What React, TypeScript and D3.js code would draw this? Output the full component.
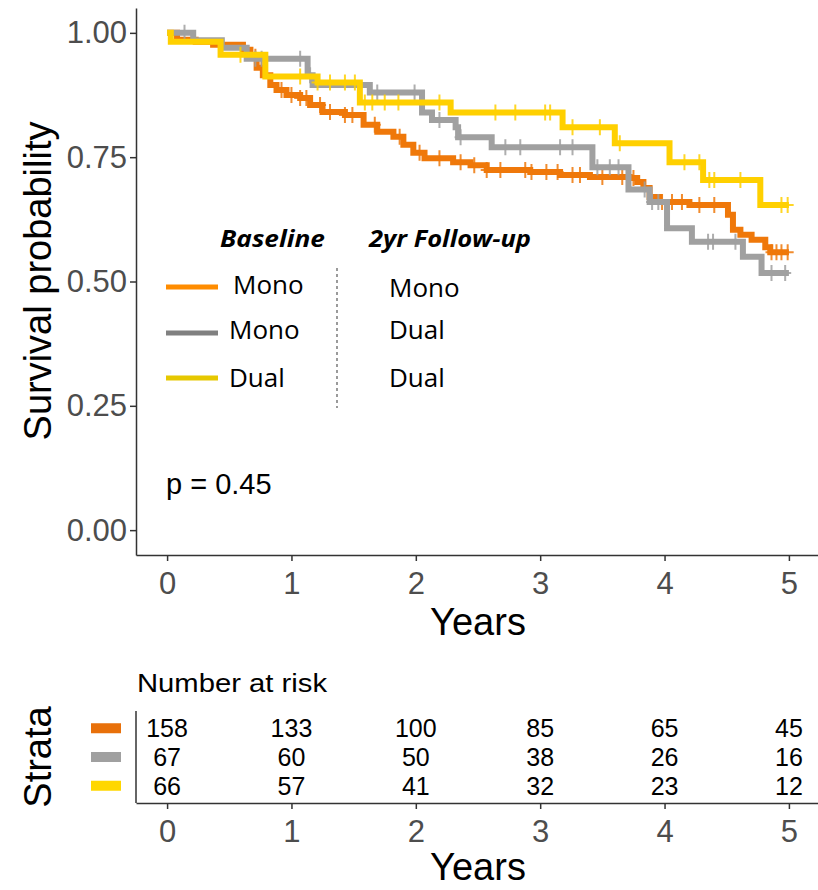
import React, { useEffect, useRef } from "react";
import * as d3 from "d3";

// strata: baseline / 2yr follow-up
const strata = ["Mono-Mono", "Mono-Dual", "Dual-Dual"];
const curveColors = ["#EF780A", "#A0A0A0", "#FFD000"];
const legendColors = ["#FF8C00", "#808080", "#E6C800"];
const tableColors = ["#E8700A", "#A0A0A0", "#FFD700"];

const orangeTimes = [0, 0.08, 0.23, 0.37, 0.61, 0.67, 0.72, 0.77, 0.83, 0.88, 0.96, 1.07, 1.15, 1.25, 1.43, 1.58, 1.69, 1.82, 1.9, 1.98, 2.07, 2.3, 2.44, 2.57, 2.92, 3.16, 3.4, 3.72, 3.78, 3.83, 3.88, 3.96, 4.2, 4.51, 4.55, 4.61, 4.7, 4.81, 4.85];
const orangeSurv = [1, 0.986, 0.982, 0.976, 0.966, 0.952, 0.93, 0.915, 0.895, 0.885, 0.875, 0.869, 0.855, 0.841, 0.835, 0.815, 0.801, 0.791, 0.775, 0.759, 0.748, 0.74, 0.734, 0.724, 0.72, 0.714, 0.71, 0.708, 0.7, 0.688, 0.67, 0.66, 0.654, 0.634, 0.604, 0.594, 0.584, 0.569, 0.559];
const orangeCensor = [0.71, 0.76, 0.92, 1.0, 1.07, 1.12, 1.23, 1.31, 1.43, 1.49, 1.67, 1.87, 2.03, 2.19, 2.36, 2.47, 2.57, 2.68, 2.88, 2.93, 3.05, 3.14, 3.26, 3.32, 3.5, 3.66, 3.75, 3.98, 4.06, 4.14, 4.28, 4.4, 4.86, 4.9, 4.94, 4.99];

const grayTimes = [0, 0.21, 0.44, 0.64, 1.13, 1.17, 1.63, 2.05, 2.13, 2.32, 2.34, 2.61, 3.42, 3.71, 3.88, 4.02, 4.22, 4.63, 4.78];
const graySurv = [1, 0.985, 0.97, 0.948, 0.915, 0.895, 0.88, 0.84, 0.825, 0.81, 0.79, 0.77, 0.73, 0.685, 0.66, 0.607, 0.58, 0.55, 0.517];
const grayCensor = [0.14, 0.71, 0.76, 1.07, 1.15, 1.69, 1.99, 2.19, 2.36, 2.72, 2.84, 3.16, 3.26, 3.46, 3.56, 3.63, 3.84, 3.9, 3.95, 4.35, 4.39, 4.57, 4.86, 4.97];

const yellowTimes = [0, 0.03, 0.43, 0.79, 1.21, 1.55, 2.28, 3.18, 3.6, 4.04, 4.31, 4.77];
const yellowSurv = [1, 0.982, 0.956, 0.912, 0.9, 0.86, 0.84, 0.81, 0.778, 0.74, 0.704, 0.654];
const yellowCensor = [0.59, 1.07, 1.21, 1.31, 1.43, 1.51, 1.59, 1.65, 1.75, 1.86, 2.19, 2.64, 2.8, 3.04, 3.08, 3.26, 3.48, 3.64, 4.16, 4.28, 4.36, 4.4, 4.61, 4.94, 4.99];

const xTicks = [0, 1, 2, 3, 4, 5];
const yTicks = [0, 0.25, 0.5, 0.75, 1];
const riskOrange = [158, 133, 100, 85, 65, 45];
const riskGray = [67, 60, 50, 38, 26, 16];
const riskYellow = [66, 57, 41, 32, 23, 12];
const baselineLabels = ["Mono", "Mono", "Dual"];
const followupLabels = ["Mono", "Dual", "Dual"];
const pLabel = "p = 0.45";

const W = 818;
const H = 890;
const axisFont = "'Liberation Sans', Arial, sans-serif";
const legendFont = "'Open Sans', sans-serif";

export default function App() {
  const ref = useRef<SVGSVGElement>(null);

  useEffect(() => {
    const svg = d3.select(ref.current);
    svg.selectAll("*").remove();

    const x = d3.scaleLinear().domain([-0.25, 5.25]).range([136, 820]);
    const y = d3.scaleLinear().domain([-0.05, 1.05]).range([555, 8]);

    const curves = [
      { times: orangeTimes, surv: orangeSurv, censor: orangeCensor },
      { times: grayTimes, surv: graySurv, censor: grayCensor },
      { times: yellowTimes, surv: yellowSurv, censor: yellowCensor },
    ];

    // main axes
    const gy = svg.append("g").attr("transform", "translate(136,0)")
      .call(d3.axisLeft(y).tickValues(yTicks).tickFormat(d3.format(".2f")).tickSize(6).tickSizeOuter(0));
    const gx = svg.append("g").attr("transform", "translate(0,555)")
      .call(d3.axisBottom(x).tickValues(xTicks).tickFormat(d3.format("d")).tickSize(6).tickSizeOuter(0));
    [gy, gx].forEach(g => {
      g.select(".domain").attr("stroke", "#333").attr("stroke-width", 1.5);
      g.selectAll(".tick line").attr("stroke", "#333").attr("stroke-width", 1.5);
      g.selectAll("text").attr("fill", "#4d4d4d").attr("font-size", 31).attr("font-family", axisFont);
    });
    gy.selectAll("text").attr("x", -9);
    gx.selectAll("text").attr("y", 28).attr("dy", "0.35em");

    svg.append("text").attr("transform", "translate(51,281) rotate(-90)")
      .attr("text-anchor", "middle").attr("font-size", 38).attr("font-family", axisFont)
      .text("Survival probability");
    svg.append("text").attr("x", 478).attr("y", 635)
      .attr("text-anchor", "middle").attr("font-size", 38).attr("font-family", axisFont)
      .text("Years");

    // curves
    const line = d3.line<[number, number]>()
      .x(d => x(d[0])).y(d => y(d[1])).curve(d3.curveStepAfter);

    curves.forEach((c, i) => {
      const pts: [number, number][] = c.times.map((t, j) => [t, c.surv[j]]);
      pts.push([5, c.surv[c.surv.length - 1]]);
      svg.append("path").datum(pts).attr("d", line)
        .attr("fill", "none").attr("stroke", curveColors[i]).attr("stroke-width", 6);
      const survAt = (t: number) => c.surv[Math.max(0, d3.bisectRight(c.times, t) - 1)];
      svg.append("g").selectAll("path").data(c.censor).join("path")
        .attr("d", t => {
          const cx = x(t), cy = y(survAt(t));
          return `M${cx},${cy - 8}V${cy + 8}M${cx - 6},${cy}H${cx + 6}`;
        })
        .attr("stroke", curveColors[i]).attr("stroke-width", 2).attr("opacity", 0.85);
    });

    // p value
    svg.append("text").attr("x", 166).attr("y", 494)
      .attr("font-size", 29).attr("font-family", axisFont).text(pLabel);

    // legend
    const lg = svg.append("g").attr("font-family", legendFont);
    lg.append("text").attr("x", 220).attr("y", 247).attr("font-size", 23)
      .attr("font-weight", "bold").attr("font-style", "italic")
      .attr("textLength", 105).attr("lengthAdjust", "spacingAndGlyphs").text("Baseline");
    lg.append("text").attr("x", 369).attr("y", 247).attr("font-size", 23)
      .attr("font-weight", "bold").attr("font-style", "italic")
      .attr("textLength", 162).attr("lengthAdjust", "spacingAndGlyphs").text("2yr Follow-up");
    const legendY = [287, 333, 378];
    const leftBase = [294, 339, 387];
    const leftX = [233, 229, 229];
    const rightBase = [297, 339, 387];
    strata.forEach((s, i) => {
      lg.append("line").attr("x1", 166).attr("x2", 218)
        .attr("y1", legendY[i]).attr("y2", legendY[i])
        .attr("stroke", legendColors[i]).attr("stroke-width", 5);
      lg.append("text").attr("x", leftX[i]).attr("y", leftBase[i]).attr("font-size", 26)
        .text(baselineLabels[i]);
      lg.append("text").attr("x", 389).attr("y", rightBase[i]).attr("font-size", 26)
        .text(followupLabels[i]);
    });
    lg.append("line").attr("x1", 337).attr("x2", 337).attr("y1", 268).attr("y2", 408)
      .attr("stroke", "#666").attr("stroke-width", 1.3).attr("stroke-dasharray", "3,3");

    // risk table
    const ry = d3.scalePoint<string>().domain(strata).range([711, 803]).padding(0.6);
    svg.append("text").attr("x", 137).attr("y", 692).attr("font-size", 26)
      .attr("font-family", axisFont).attr("textLength", 190)
      .attr("lengthAdjust", "spacingAndGlyphs").text("Number at risk");
    const gt = svg.append("g");
    gt.append("line").attr("x1", 136).attr("x2", 136).attr("y1", 711).attr("y2", 803)
      .attr("stroke", "#333").attr("stroke-width", 1.5);
    const gtx = svg.append("g").attr("transform", "translate(0,803)")
      .call(d3.axisBottom(x).tickValues(xTicks).tickFormat(d3.format("d")).tickSize(6).tickSizeOuter(0));
    gtx.select(".domain").attr("stroke", "#333").attr("stroke-width", 1.5);
    gtx.selectAll(".tick line").attr("stroke", "#333").attr("stroke-width", 1.5);
    gtx.selectAll("text").attr("fill", "#4d4d4d").attr("font-size", 31)
      .attr("font-family", axisFont).attr("y", 28).attr("dy", "0.35em");

    const risks = [riskOrange, riskGray, riskYellow];
    strata.forEach((s, i) => {
      const yy = ry(s) as number;
      gt.append("rect").attr("x", 91).attr("y", yy - 5).attr("width", 30).attr("height", 10)
        .attr("fill", tableColors[i]);
      gt.selectAll(null).data(risks[i]).join("text")
        .attr("x", (d, j) => x(xTicks[j])).attr("y", yy).attr("dy", "0.36em")
        .attr("text-anchor", "middle").attr("font-size", 25).attr("font-family", axisFont)
        .text(d => d);
    });
    svg.append("text").attr("transform", "translate(51,757) rotate(-90)")
      .attr("text-anchor", "middle").attr("font-size", 38).attr("font-family", axisFont)
      .text("Strata");
    svg.append("text").attr("x", 478).attr("y", 880)
      .attr("text-anchor", "middle").attr("font-size", 38).attr("font-family", axisFont)
      .text("Years");
  }, []);

  return (
    <svg ref={ref} width={W} height={H}
      style={{ position: "absolute", left: 0, top: 0, background: "#fff", display: "block" }} />
  );
}
